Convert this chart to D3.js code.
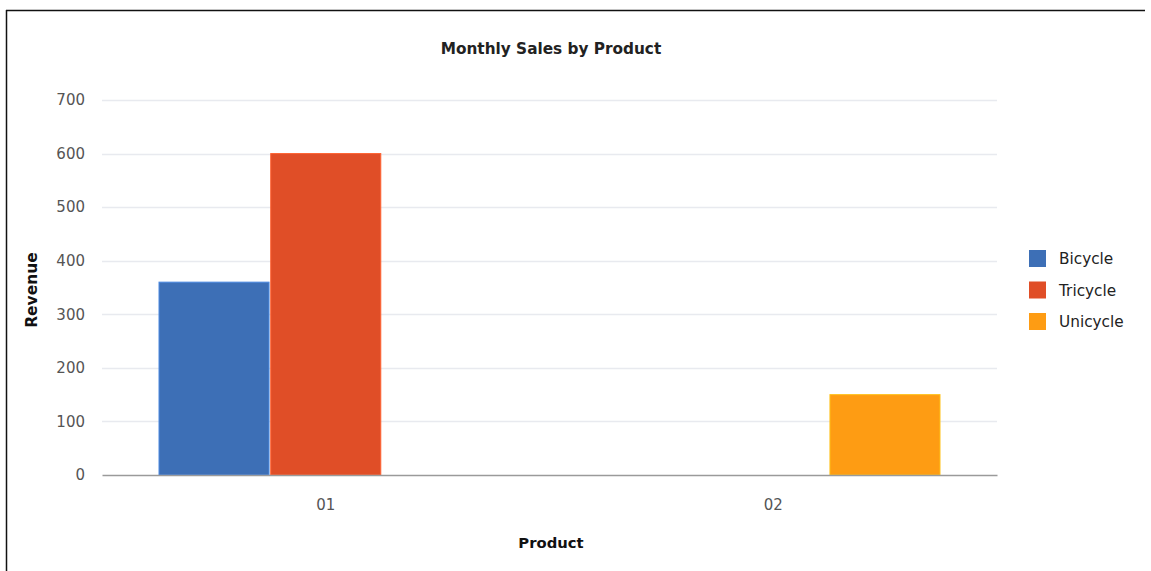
<!DOCTYPE html>
<html>
<head>
<meta charset="utf-8">
<script src="https://cdn.jsdelivr.net/npm/d3@7"></script>
<style>
  body { margin: 0; background: #fff; }
  svg { display: block; }
</style>
</head>
<body>
<div id="chart"></div>
<script>
// chart data
const products = ['01', '02'];
const seriesNames = ['Bicycle', 'Tricycle', 'Unicycle'];
const bicycle = [360, 0];
const tricycle = [600, 0];
const unicycle = [0, 150];
const yTicks = [0, 100, 200, 300, 400, 500, 600, 700];
const colors = ['#3d6fb6', '#e04e27', '#fe9c13'];

const seriesValues = [bicycle, tricycle, unicycle];

const width = 1151;
const height = 571;
const margin = { top: 100, right: 154, bottom: 96, left: 102 };

const svg = d3.select('#chart')
    .append('svg')
    .attr('width', width)
    .attr('height', height);

// frame (top and left edges)
svg.append('line')
    .attr('x1', 6).attr('x2', 1145)
    .attr('y1', 10.5).attr('y2', 10.5)
    .attr('stroke', '#111').attr('stroke-width', 1.5);
svg.append('line')
    .attr('x1', 6.5).attr('x2', 6.5)
    .attr('y1', 10).attr('y2', height)
    .attr('stroke', '#111').attr('stroke-width', 1.5);

// scales
const x0 = d3.scaleBand()
    .domain(products)
    .range([margin.left, width - margin.right]);

const x1 = d3.scaleBand()
    .domain(seriesNames)
    .range([57, x0.bandwidth() - 57])
    .paddingInner(0.015);

const y = d3.scaleLinear()
    .domain([0, 700])
    .range([height - margin.bottom, margin.top]);

// gridlines
svg.append('g')
    .selectAll('line')
    .data(yTicks.filter(d => d > 0))
    .enter()
    .append('line')
    .attr('x1', margin.left)
    .attr('x2', width - margin.right)
    .attr('y1', d => Math.round(y(d)) + 0.5)
    .attr('y2', d => Math.round(y(d)) + 0.5)
    .attr('stroke', '#e8eaef')
    .attr('stroke-width', 1.5);

// y axis labels
const yAxis = d3.axisLeft(y).tickValues(yTicks).tickSize(0).tickPadding(17);
const yG = svg.append('g')
    .attr('transform', `translate(${margin.left}, 0)`)
    .call(yAxis);
yG.select('.domain').remove();
yG.selectAll('text')
    .attr('fill', '#555')
    .style('font-family', 'DejaVu Sans, Verdana, sans-serif')
    .style('font-size', '15px');

// bars
const groups = svg.append('g')
    .selectAll('g')
    .data(products)
    .enter()
    .append('g')
    .attr('transform', d => `translate(${x0(d)}, 0)`);

groups.selectAll('rect')
    .data((p, i) => seriesNames.map((s, j) => ({ key: s, value: seriesValues[j][i], color: colors[j] })))
    .enter()
    .filter(d => d.value > 0)
    .append('rect')
    .attr('x', d => x1(d.key))
    .attr('y', d => y(d.value))
    .attr('width', x1.bandwidth())
    .attr('height', d => y(0) - y(d.value))
    .attr('fill', d => d.color)
    .attr('stroke', d => d3.color(d.color).brighter(0.6))
    .attr('stroke-width', 1);

// x axis
const xAxis = d3.axisBottom(x0).tickSize(0).tickPadding(24);
const xG = svg.append('g')
    .attr('transform', `translate(0, ${y(0)})`)
    .call(xAxis);
xG.select('.domain')
    .attr('stroke', '#9a9a9a')
    .attr('stroke-width', 1.5);
xG.selectAll('text')
    .attr('fill', '#555')
    .style('font-family', 'DejaVu Sans, Verdana, sans-serif')
    .style('font-size', '15px');

// title
svg.append('text')
    .attr('x', 551)
    .attr('y', 54)
    .attr('text-anchor', 'middle')
    .attr('fill', '#222')
    .style('font-family', 'DejaVu Sans, Verdana, sans-serif')
    .style('font-weight', 'bold')
    .style('font-size', '15.3px')
    .text('Monthly Sales by Product');

// axis titles
svg.append('text')
    .attr('x', 551)
    .attr('y', 548)
    .attr('text-anchor', 'middle')
    .attr('fill', '#111')
    .style('font-family', 'DejaVu Sans, Verdana, sans-serif')
    .style('font-weight', 'bold')
    .style('font-size', '14.8px')
    .text('Product');

svg.append('text')
    .attr('transform', 'rotate(-90)')
    .attr('x', -290)
    .attr('y', 37)
    .attr('text-anchor', 'middle')
    .attr('fill', '#111')
    .style('font-family', 'DejaVu Sans, Verdana, sans-serif')
    .style('font-weight', 'bold')
    .style('font-size', '15.5px')
    .text('Revenue');

// legend
const legend = svg.append('g')
    .attr('transform', 'translate(1029, 250)');

const items = legend.selectAll('g')
    .data(seriesNames)
    .enter()
    .append('g')
    .attr('transform', (d, i) => `translate(0, ${i * 31.5})`);

items.append('rect')
    .attr('width', 17)
    .attr('height', 17)
    .attr('fill', (d, i) => colors[i]);

items.append('text')
    .attr('x', 30)
    .attr('y', 14)
    .attr('fill', '#222')
    .style('font-family', 'DejaVu Sans, Verdana, sans-serif')
    .style('font-size', '15.3px')
    .text(d => d);
</script>
</body>
</html>
